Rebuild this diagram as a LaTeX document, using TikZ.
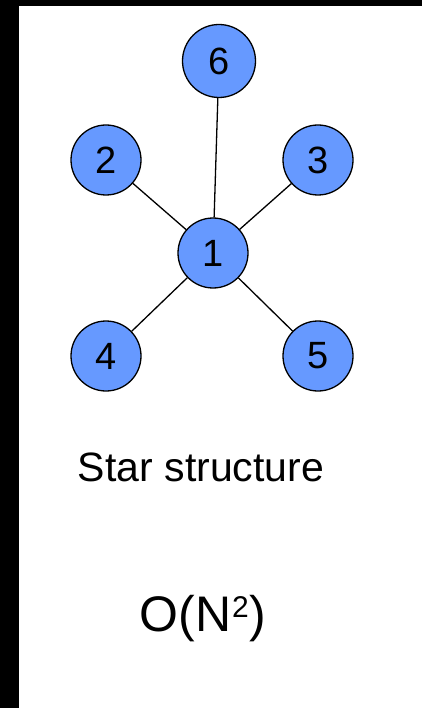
\documentclass[tikz,border=0pt]{standalone}
\usepackage{fontspec}
\setmainfont{Liberation Sans}
\usepackage{tikz}

\definecolor{nodeblue}{HTML}{6699FF}

\begin{document}
\begin{tikzpicture}[x=1pt, y=-1pt,
  vertex/.style={circle, draw=black, line width=1.3pt, fill=nodeblue,
    minimum size=70pt, inner sep=0pt, font=\fontsize{38}{40}\selectfont},
  spoke/.style={line width=1.3pt}]

% Page and black frame strips
\useasboundingbox (0,0) rectangle (422,708);
\fill[white] (0,0) rectangle (422,708);
\fill[black] (0,0) rectangle (19,708);
\fill[black] (0,0) rectangle (422,6);

% Hub and leaves
\node[vertex] (n1) at (213,253) {1};
\node[vertex] (n2) at (106,160) {2};
\node[vertex] (n3) at (318,160) {3};
\node[vertex] (n4) at (106,356) {4};
\node[vertex] (n5) at (318,356) {5};
\node[vertex, minimum size=73pt] (n6) at (219,61) {6};

% Spokes
\draw[spoke] (n1) -- (n6);
\draw[spoke] (n1) -- (n2);
\draw[spoke] (n1) -- (n3);
\draw[spoke] (n1) -- (n4);
\draw[spoke] (n1) -- (n5);

% Captions
\node[font=\fontsize{41}{44}\selectfont] (caption) at (201,467) {Star structure};
\node[font=\fontsize{50}{54}\selectfont] (order) at (203,619)
  {O(N\kern1pt\raisebox{14pt}{\fontsize{30}{30}\selectfont 2}\kern1pt)};

\end{tikzpicture}
\end{document}
